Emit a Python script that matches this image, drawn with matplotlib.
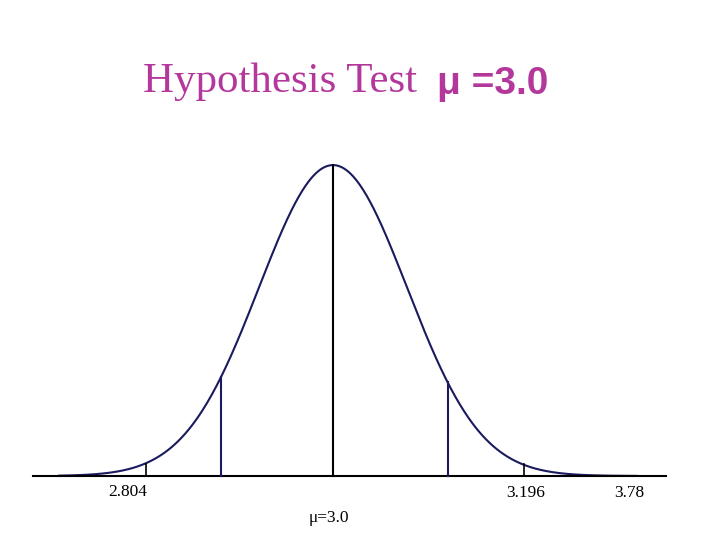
import numpy as np
import matplotlib
matplotlib.use("Agg")
import matplotlib.pyplot as plt

# data (in standard-deviation units around mu)
crit_lines = [-1.51, 1.55]
tick_pos = [-2.53, 2.58]
labels = ["2.804", "μ=3.0", "3.196", "3.78"]
label_x = [-2.77, -0.05, 2.6, 4.0]
label_y = [-0.05, -0.135, -0.055, -0.055]

fig = plt.figure(figsize=(7.2, 5.4), dpi=100)
ax = fig.add_axes([0, 0, 1, 1])
ax.set_xlim(-4.5, 5.23)
ax.set_ylim(-0.206, 1.531)
ax.axis("off")

u = np.linspace(-3.7, 4.1, 500)
f = np.exp(-u**2 / 2)
navy = "#1a1a5e"
ax.plot(u, f, color=navy, lw=1.5)
ax.plot([-4.06, 4.5], [0, 0], color="black", lw=1.5)
ax.plot([0, 0], [0, 1], color="black", lw=1.5)
for c in crit_lines:
    ax.plot([c, c], [0, np.exp(-c**2 / 2)], color=navy, lw=1.5)
for t in tick_pos:
    ax.plot([t, t], [0, 0.04], color="black", lw=1.2)
for s, x, y in zip(labels, label_x, label_y):
    ax.text(x, y, s, family="Liberation Serif", fontsize=12.5, ha="center", va="center")

mag = "#b4389c"
fig.text(428/720, 1 - 82/540, "Hypothesis Test ", family="Liberation Serif",
         fontsize=31, color=mag, ha="right", va="center")
fig.text(437/720, 1 - 84/540, "μ =3.0", family="Liberation Sans", weight="bold",
         fontsize=28, color=mag, ha="left", va="center")
fig.savefig("out.png", dpi=100)
